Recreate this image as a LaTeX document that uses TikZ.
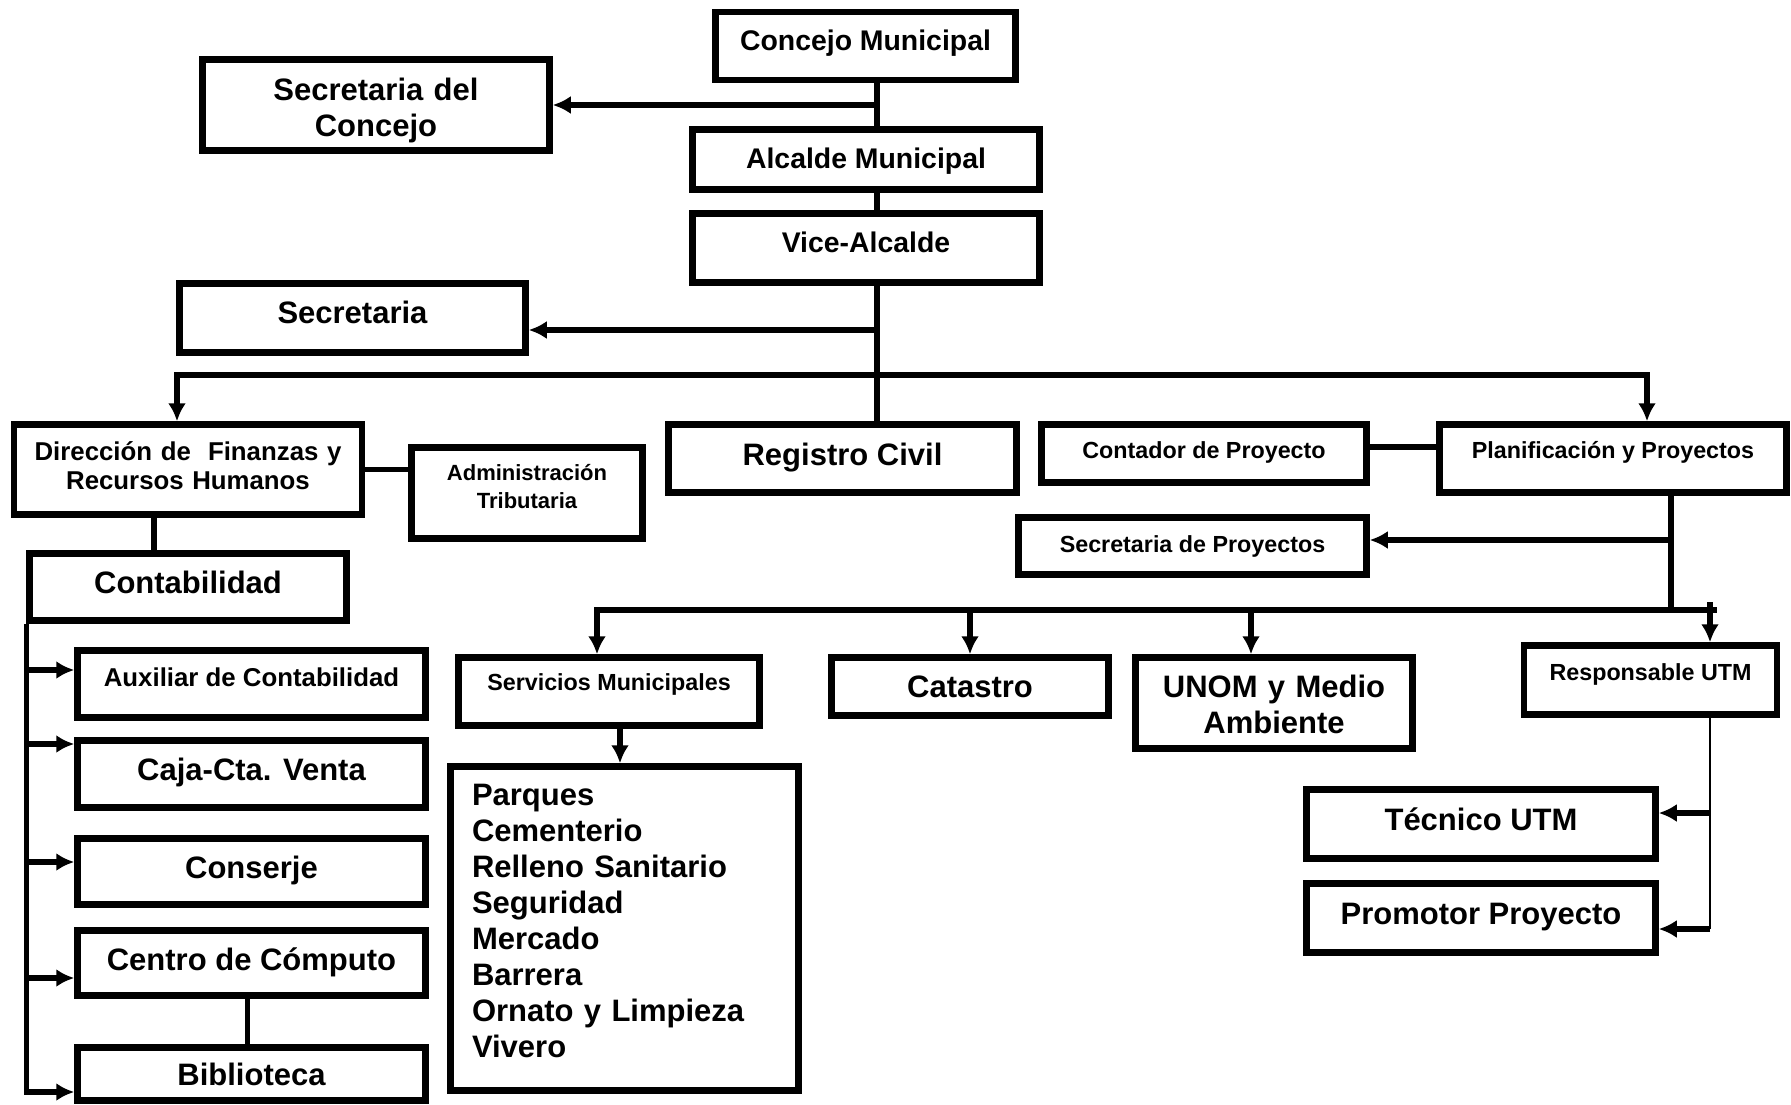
\documentclass[tikz,border=0pt]{standalone}
\usepackage{fontspec}
\setmainfont{Liberation Sans}
\usetikzlibrary{arrows, arrows.meta, positioning, calc}
\newcommand{\tA}{\fontsize{31}{36}\selectfont\bfseries}
\newcommand{\tB}{\fontsize{28.4}{34}\selectfont\bfseries}
\newcommand{\tC}{\fontsize{25.8}{29.5}\selectfont\bfseries}
\newcommand{\tD}{\fontsize{23.3}{28}\selectfont\bfseries}
\newcommand{\tE}{\fontsize{22}{28}\selectfont\bfseries}
\tikzstyle{unidad} = [rectangle, draw=black, line width=6.5pt, inner sep=0pt, text centered, font=\tA]
\tikzstyle{arrow} = [line width=5.5pt, -{Latex[length=18pt,width=18pt]}]
\tikzstyle{linea} = [line width=5.5pt]
\begin{document}
\begin{tikzpicture}[x=1pt, y=-1pt]
    \useasboundingbox (0,0) rectangle (1791,1105);
    \node (concejo) [unidad, font=\tB, minimum width=300pt, text height=38.5pt, text depth=29.5pt] at (865.5,46) {Concejo Municipal};
    \node (secc) [unidad, text width=347pt, text height=41pt, text depth=50pt] at (376,105) {Secretaria del\\Concejo};
    \node (alcalde) [unidad, font=\tB, minimum width=347pt, text height=38.5pt, text depth=21.5pt] at (866,159.5) {Alcalde Municipal};
    \node (vice) [unidad, font=\tB, minimum width=347pt, text height=38.5pt, text depth=30.5pt] at (866,248) {Vice-Alcalde};
    \node (sec) [unidad, minimum width=346pt, text height=39.5pt, text depth=29.5pt] at (352.5,318) {Secretaria};
    \node (dir) [unidad, font=\tC, text width=348pt, text height=35.5pt, text depth=54.5pt] at (188,469.5) {Dirección de\ \ Finanzas y\\Recursos Humanos};
    \node (admin) [unidad, font=\tE, text width=231pt, text height=32.5pt, text depth=58.5pt] at (527,493) {Administración\\Tributaria};
    \node (registro) [unidad, minimum width=348pt, text height=40.5pt, text depth=27.5pt] at (842.5,458.5) {Registro Civil};
    \node (contador) [unidad, font=\tD, minimum width=325pt, text height=33.5pt, text depth=24.5pt] at (1204,453.5) {Contador de Proyecto};
    \node (planif) [unidad, font=\tD, minimum width=347pt, text height=33.5pt, text depth=34.5pt] at (1613,458.5) {Planificación y Proyectos};
    \node (secproy) [unidad, font=\tD, minimum width=348pt, text height=34.5pt, text depth=22.5pt] at (1192.5,546) {Secretaria de Proyectos};
    \node (contab) [unidad, minimum width=317pt, text height=39.5pt, text depth=27.5pt] at (188,587) {Contabilidad};
    \node (aux) [unidad, font=\tC, minimum width=348pt, text height=35.5pt, text depth=31.5pt] at (251.5,684) {Auxiliar de Contabilidad};
    \node (caja) [unidad, minimum width=348pt, text height=39.5pt, text depth=27.5pt] at (251.5,774) {Caja-Cta. Venta};
    \node (conserje) [unidad, minimum width=348pt, text height=39.5pt, text depth=26.5pt] at (251.5,871.5) {Conserje};
    \node (centro) [unidad, minimum width=348pt, text height=39.5pt, text depth=25.5pt] at (251.5,963) {Centro de Cómputo};
    \node (biblio) [unidad, minimum width=348pt, text height=37.5pt, text depth=15.5pt] at (251.5,1074) {Biblioteca};
    \node (serv) [unidad, font=\tD, minimum width=301pt, text height=32.5pt, text depth=35.5pt] at (609,691.5) {Servicios Municipales};
    \node (lista) [unidad, align=left, text width=305pt, inner xsep=21.5pt, text height=38.5pt, text depth=285.5pt] at (624.5,928.5) {Parques\\Cementerio\\Relleno Sanitario\\Seguridad\\Mercado\\Barrera\\Ornato y Limpieza\\Vivero};
    \node (catastro) [unidad, minimum width=277pt, text height=39.5pt, text depth=18.5pt] at (970,686.5) {Catastro};
    \node (unom) [unidad, text width=277pt, text height=39.5pt, text depth=51.5pt] at (1274,703) {UNOM y Medio\\Ambiente};
    \node (resp) [unidad, font=\tD, minimum width=253pt, text height=34.5pt, text depth=34.5pt] at (1650.5,680) {Responsable UTM};
    \node (tecnico) [unidad, minimum width=349pt, text height=40.5pt, text depth=28.5pt] at (1481,824) {Técnico UTM};
    \node (promotor) [unidad, minimum width=349pt, text height=40.5pt, text depth=28.5pt] at (1481,918) {Promotor Proyecto};

    \coordinate (eje) at (877,0);
    \coordinate (bus) at (877,375);
    \coordinate (bus2) at (1671,610);
    \coordinate (sp) at (1671,540);
    \coordinate (utm) at (1710,602);
    \coordinate (t1) at (1710,813);
    \coordinate (t2) at (1710,929);

    \draw [linea] (eje |- concejo.south) -- (eje |- alcalde.north);
    \draw [linea] (eje |- alcalde.south) -- (eje |- vice.north);
    \draw [linea] (eje |- vice.south) -- (eje |- registro.north);
    \draw [arrow] (eje |- secc.east) -- (secc.east);
    \draw [arrow] (eje |- sec.east) ++(0,12) -- ([yshift=-12pt]sec.east);
    \draw [arrow] (bus) -| ([xshift=-11pt]dir.north);
    \draw [arrow] (bus) -| ([xshift=34pt]planif.north);

    \draw [linea] (dir.east) -- (dir.east -| admin.west);
    \draw [linea] ([xshift=-34pt]dir.south) -- ([xshift=-34pt]contab.north);
    \draw [arrow] (contab.south west) |- ([yshift=14pt]aux.west);
    \draw [arrow] (contab.south west) |- ([yshift=30pt]caja.west);
    \draw [arrow] (contab.south west) |- ([yshift=9.5pt]conserje.west);
    \draw [arrow] (contab.south west) |- ([yshift=-15pt]centro.west);
    \draw [arrow] (contab.south west) |- ([yshift=-18pt]biblio.west);
    \draw [linea] ([xshift=-4pt]centro.south) -- ([xshift=-4pt]biblio.north);

    \draw [linea] ([yshift=6.5pt]contador.east) -- ([yshift=6.5pt]contador.east -| planif.west);
    \draw [linea] ([xshift=58pt]planif.south) -- (bus2) -- ++(46,0);
    \draw [arrow] (sp) -- (sp -| secproy.east);
    \draw [arrow] (bus2) -| ([xshift=-12pt]serv.north);
    \draw [arrow] (bus2 -| catastro.north) -- (catastro.north);
    \draw [arrow] ([xshift=-23pt]unom.north |- bus2) -- ([xshift=-23pt]unom.north);
    \draw [arrow] (utm) -- (utm |- resp.north);
    \draw [arrow] ([xshift=11pt]serv.south) -- ([xshift=11pt]serv.south |- lista.north);

    \draw [line width=2pt] (utm |- resp.south) -- (t2);
    \draw [arrow] (t1) -- (t1 -| tecnico.east);
    \draw [arrow] (t2) -- (t2 -| promotor.east);
\end{tikzpicture}
\end{document}
